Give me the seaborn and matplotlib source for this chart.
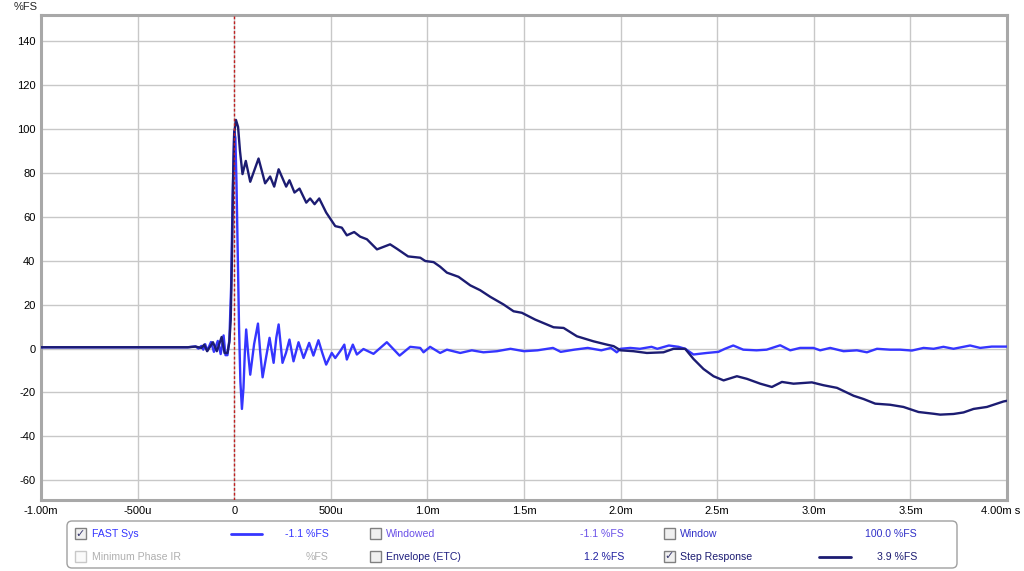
import matplotlib
matplotlib.use('Agg')
import matplotlib.pyplot as plt
from matplotlib.patches import Rectangle, FancyBboxPatch
from matplotlib.transforms import ScaledTranslation
import pandas as pd
import seaborn as sns

# time in ms, values in %FS
step_t = [-1.0, -0.8, -0.6, -0.4, -0.3, -0.24, -0.2, -0.17, -0.155, -0.14, -0.11, -0.09,
          -0.065, -0.05, -0.035, -0.025, -0.018, -0.012, -0.006, 0.0, 0.009, 0.02, 0.03,
          0.043, 0.06, 0.083, 0.126, 0.16, 0.186, 0.207, 0.23, 0.269, 0.286, 0.312, 0.338,
          0.373, 0.393, 0.416, 0.44, 0.476, 0.523, 0.557, 0.583, 0.621, 0.652, 0.687, 0.739,
          0.807, 0.842, 0.9, 0.963, 0.989, 1.032, 1.066, 1.101, 1.161, 1.222, 1.273, 1.325,
          1.394, 1.446, 1.489, 1.558, 1.653, 1.705, 1.774, 1.86, 1.929, 1.964, 2.0, 2.067,
          2.136, 2.222, 2.274, 2.334, 2.377, 2.429, 2.481, 2.533, 2.602, 2.654, 2.723, 2.783,
          2.835, 2.895, 2.99, 3.05, 3.12, 3.206, 3.258, 3.318, 3.395, 3.464, 3.542, 3.62,
          3.654, 3.723, 3.775, 3.827, 3.896, 3.982, 4.0]
step_v = [0.6, 0.6, 0.6, 0.6, 0.6, 0.6, 0.9, 0.3, 1.8, -1.2, 2.9, -1.2,
          5.3, -2.0, -2.0, 3.0, 13.0, 40.0, 75.0, 98.0, 104.2, 101.0, 90.0,
          79.5, 85.5, 76.0, 86.6, 75.3, 78.4, 73.8, 81.7, 73.8, 76.7, 71.1, 72.9,
          66.5, 68.4, 65.8, 68.4, 62.0, 55.8, 55.1, 51.6, 53.1, 51.0, 49.8, 45.2,
          47.5, 45.5, 42.0, 41.4, 39.9, 39.4, 37.3, 34.6, 32.7, 28.8, 26.6, 23.6,
          20.1, 17.0, 16.3, 13.2, 9.7, 9.4, 5.6, 3.3, 1.8, 1.1, -0.8, -1.2,
          -2.0, -1.7, -0.1, -0.1, -4.7, -9.3, -12.6, -14.5, -12.6, -13.8, -16.0, -17.5,
          -15.2, -16.0, -15.4, -16.7, -17.9, -21.5, -23.0, -25.1, -25.6, -26.6, -28.9, -29.7,
          -30.1, -29.8, -29.1, -27.5, -26.6, -24.1, -23.8]

fast_t = [-1.0, -0.8, -0.6, -0.4, -0.3, -0.24, -0.2, -0.185, -0.17, -0.16, -0.15, -0.14,
          -0.12, -0.105, -0.085, -0.07, -0.055, -0.045, -0.035, -0.025, -0.016, -0.008,
          0.0, 0.006, 0.012, 0.018, 0.025, 0.032, 0.04, 0.048, 0.055, 0.062, 0.072, 0.083,
          0.103, 0.123, 0.135, 0.147, 0.165, 0.183, 0.204, 0.218, 0.23, 0.25, 0.268, 0.286,
          0.307, 0.333, 0.359, 0.388, 0.41, 0.436, 0.456, 0.476, 0.505, 0.523, 0.55, 0.57,
          0.583, 0.614, 0.635, 0.669, 0.721, 0.79, 0.856, 0.911, 0.963, 0.98, 1.014, 1.066,
          1.101, 1.17, 1.23, 1.29, 1.36, 1.43, 1.5, 1.57, 1.65, 1.69, 1.76, 1.83, 1.9, 1.95,
          1.98, 2.0, 2.05, 2.1, 2.16, 2.19, 2.25, 2.3, 2.334, 2.377, 2.446, 2.506, 2.54,
          2.583, 2.635, 2.704, 2.756, 2.826, 2.878, 2.929, 2.998, 3.033, 3.085, 3.154, 3.223,
          3.275, 3.327, 3.395, 3.447, 3.508, 3.568, 3.62, 3.671, 3.723, 3.809, 3.861, 3.921,
          3.982, 4.0]
fast_v = [0.6, 0.6, 0.6, 0.6, 0.6, 0.6, 1.0, 0.0, 1.2, -0.5, 2.0, -1.0,
          3.0, -1.5, 3.5, -2.5, 6.0, -3.0, -3.0, 4.0, 28.0, 70.0,
          99.0, 96.0, 75.0, 45.0, 10.0, -15.0, -27.5, -18.0, -2.0, 8.7, -2.0, -11.9,
          2.0, 11.4, -2.0, -13.1, -4.0, 4.9, -6.5, 5.0, 11.0, -6.5, -2.0, 4.1,
          -5.8, 2.9, -4.3, 2.6, -3.2, 3.8, -2.0, -7.3, -2.0, -4.3, -1.0, 1.8,
          -5.0, 1.8, -2.7, -0.2, -2.4, 2.9, -3.2, 0.8, 0.3, -1.7, 0.8, -2.0,
          -0.5, -2.0, -0.8, -1.7, -1.2, -0.1, -1.2, -0.8, 0.3, -1.5, -0.5, 0.3, -0.8, 0.3,
          -1.7, -0.1, 0.3, -0.1, 0.8, -0.1, 1.4, 0.8, -0.1, -2.7, -2.0, -1.5, -0.1,
          1.4, -0.5, -0.8, -0.5, 1.5, -0.8, 0.3, 0.3, -0.8, 0.3, -1.2, -0.8,
          -1.7, -0.1, -0.5, -0.5, -0.9, 0.3, -0.1, 0.8, -0.1, 1.4, 0.3, 0.9,
          0.9, 0.9]

x_ticks = [-1.0, -0.5, 0.0, 0.5, 1.0, 1.5, 2.0, 2.5, 3.0, 3.5, 4.0]
x_labels = ['-1.00m', '-500u', '0', '500u', '1.0m', '1.5m', '2.0m', '2.5m', '3.0m', '3.5m', '4.00m s']
y_ticks = [-60, -40, -20, 0, 20, 40, 60, 80, 100, 120, 140]

FAST_C = '#3535ff'
STEP_C = '#1c1c72'

sns.set_style('white')
plt.rcParams['font.family'] = ['Liberation Sans', 'DejaVu Sans']
plt.rcParams['axes.unicode_minus'] = False

fig = plt.figure(figsize=(10.24, 5.71), dpi=100)
ax = fig.add_axes([41 / 1024, 1 - 500 / 571, 966 / 1024, 485 / 571])

df_fast = pd.DataFrame({'t': fast_t, 'v': fast_v})
df_step = pd.DataFrame({'t': step_t, 'v': step_v})
sns.lineplot(data=df_fast, x='t', y='v', ax=ax, color=FAST_C, lw=1.7, estimator=None,
             zorder=3, solid_joinstyle='round')
sns.lineplot(data=df_step, x='t', y='v', ax=ax, color=STEP_C, lw=1.7, estimator=None,
             zorder=4, solid_joinstyle='round')

ax.axvline(0, color='#c02020', lw=1, ls=(0, (2, 1.5)), zorder=5)

ax.set_xlim(-1.0, 4.0)
ax.set_ylim(-69, 152)
ax.set_xticks(x_ticks)
ax.set_xticklabels(x_labels)
ax.set_yticks(y_ticks)
ax.set_xlabel('')
ax.set_ylabel('')
ax.grid(True, color='#c8c8c8', lw=1)
ax.tick_params(length=0, labelsize=8, colors='#000000', pad=4)
for s in ax.spines.values():
    s.set_color('#a8a8a8')
    s.set_linewidth(2.2)

# last tick label carries the unit; nudge it left so it stays inside the figure
last = ax.get_xticklabels()[-1]
last.set_transform(last.get_transform() + ScaledTranslation(-0.06, 0, fig.dpi_scale_trans))

# overlay in pixel coordinates for labels and legend
ov = fig.add_axes([0, 0, 1, 1], zorder=10)
ov.set_xlim(0, 1024)
ov.set_ylim(571, 0)
ov.axis('off')
ov.patch.set_visible(False)

ov.text(14, 7, '%FS', fontsize=8, va='center', ha='left')

ov.add_patch(FancyBboxPatch((67, 521), 890, 47, boxstyle='round,pad=0,rounding_size=5',
                            fc='white', ec='#a0a0a0', lw=1))


def checkbox(x, y, checked, enabled=True):
    ec = '#808080' if enabled else '#c8c8c8'
    ov.add_patch(Rectangle((x, y - 6), 11, 11, fc='#f0f0f0' if enabled else '#fafafa', ec=ec, lw=1))
    if checked:
        ov.text(x + 5.5, y - 0.5, '\u2713', fontsize=8, ha='center', va='center',
                color='#3a3a70', family='DejaVu Sans', fontweight='bold')


fs = 7.6
r1, r2 = 534, 557
checkbox(75, r1, True)
ov.text(92, r1, 'FAST Sys', fontsize=fs, color=FAST_C, va='center')
ov.plot([231, 262], [r1, r1], color=FAST_C, lw=2)
ov.text(329, r1, '-1.1 %FS', fontsize=fs, color=FAST_C, va='center', ha='right')
checkbox(370, r1, False)
ov.text(386, r1, 'Windowed', fontsize=fs, color='#6a50e8', va='center')
ov.text(624, r1, '-1.1 %FS', fontsize=fs, color='#6a50e8', va='center', ha='right')
checkbox(664, r1, False)
ov.text(680, r1, 'Window', fontsize=fs, color='#3030c8', va='center')
ov.text(917, r1, '100.0 %FS', fontsize=fs, color='#3030c8', va='center', ha='right')

checkbox(75, r2, False, enabled=False)
ov.text(92, r2, 'Minimum Phase IR', fontsize=fs, color='#b0b0b0', va='center')
ov.text(329, r2, '%FS', fontsize=fs, color='#b0b0b0', va='center', ha='right')
checkbox(370, r2, False)
ov.text(386, r2, 'Envelope (ETC)', fontsize=fs, color='#202080', va='center')
ov.text(624, r2, '1.2 %FS', fontsize=fs, color='#2020a0', va='center', ha='right')
checkbox(664, r2, True)
ov.text(680, r2, 'Step Response', fontsize=fs, color=STEP_C, va='center')
ov.plot([819, 851], [r2, r2], color=STEP_C, lw=2)
ov.text(917, r2, '3.9 %FS', fontsize=fs, color=STEP_C, va='center', ha='right')

fig.savefig('out.png', dpi=100)
